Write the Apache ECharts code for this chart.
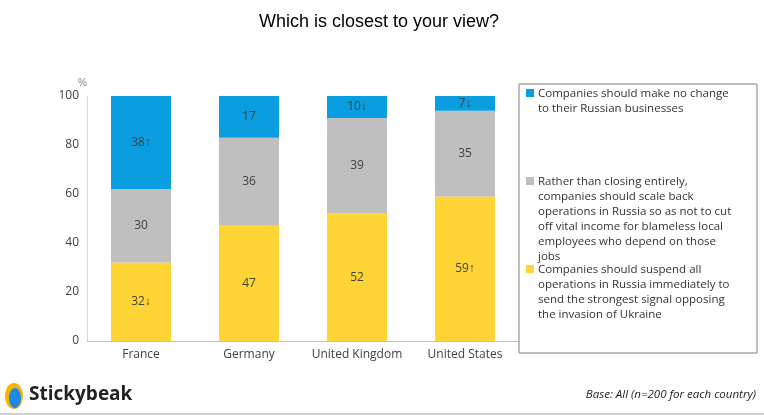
<!DOCTYPE html>
<html><head><meta charset="utf-8">
<script src="https://cdn.jsdelivr.net/npm/echarts@6/dist/echarts.min.js"></script>
<style>html,body{margin:0;padding:0;background:#fff}#main{width:764px;height:415px}</style>
</head><body><div id="main"></div>
<script>
var countries = ['France', 'Germany', 'United Kingdom', 'United States'];
var suspendVals = [32, 47, 52, 59];
var scaleVals = [30, 36, 39, 35];
var noChangeVals = [38, 17, 10, 7];
var suspendMarks = ['↓', '', '', '↑'];
var scaleMarks = ['', '', '', ''];
var noChangeMarks = ['↑', '', '↓', '↓'];

var font = 'Open Sans, sans-serif';
var myChart = echarts.init(document.getElementById('main'));

function series(name, vals, marks, color) {
  return {
    name: name, type: 'bar', stack: 'all', data: vals, barWidth: 60,
    itemStyle: { color: color },
    label: {
      show: true, color: '#404040', fontSize: 12, fontFamily: font,
      formatter: function (p) { return p.value + marks[p.dataIndex]; }
    }
  };
}

function legendItem(y, color, text) {
  return [
    { type: 'rect', shape: { x: 526, y: y + 3, width: 8, height: 8 }, style: { fill: color } },
    { type: 'text', left: 538, top: y, style: { text: text, fill: '#333', font: '11.5px ' + font, lineHeight: 15 } }
  ];
}

var option = {
  animation: false,
  title: { text: 'Which is closest to your view?', left: 254, top: 8,
    textStyle: { fontSize: 18, fontWeight: 'normal', color: '#000', fontFamily: 'Arial, Liberation Sans, sans-serif' } },
  grid: { left: 87, right: 245, top: 96, bottom: 74 },
  xAxis: { type: 'category', data: countries,
    axisLine: { lineStyle: { color: '#bfbfbf' } }, axisTick: { show: false },
    axisLabel: { color: '#404040', fontSize: 12, fontFamily: font, margin: 8, interval: 0 } },
  yAxis: { type: 'value', min: 0, max: 100, interval: 20, name: '%', nameGap: 8,
    nameTextStyle: { color: '#808080', fontSize: 10, align: 'right' },
    splitLine: { show: false }, axisLine: { show: true, lineStyle: { color: '#d9d9d9' } },
    axisLabel: { color: '#404040', fontSize: 12, fontFamily: font } },
  series: [
    series('suspend', suspendVals, suspendMarks, '#fed535'),
    series('scale', scaleVals, scaleMarks, '#bfbfbf'),
    series('nochange', noChangeVals, noChangeMarks, '#0a9ee0')
  ],
  graphic: [
    { type: 'rect', shape: { x: 519, y: 84, width: 238, height: 269 }, style: { fill: 'none', stroke: '#7f7f7f', lineWidth: 1 } }
  ].concat(
    legendItem(86, '#0a9ee0', 'Companies should make no change\nto their Russian businesses'),
    legendItem(174, '#bfbfbf', 'Rather than closing entirely,\ncompanies should scale back\noperations in Russia so as not to cut\noff vital income for blameless local\nemployees who depend on those\njobs'),
    legendItem(262, '#fed535', 'Companies should suspend all\noperations in Russia immediately to\nsend the strongest signal opposing\nthe invasion of Ukraine'),
    [
      { type: 'rect', shape: { x: 0, y: 413, width: 764, height: 2 }, style: { fill: '#d0d0d0' } },
      { type: 'ellipse', shape: { cx: 14, cy: 396, rx: 9, ry: 13 }, style: { fill: '#f5b400' } },
      { type: 'ellipse', shape: { cx: 15, cy: 398, rx: 6, ry: 10 }, style: { fill: '#1e88e5' } },
      { type: 'text', left: 29, top: 385, style: { text: 'Stickybeak', fill: '#222', font: 'bold 19px ' + font } },
      { type: 'text', right: 8, top: 389, style: { text: 'Base: All (n=200 for each country)', fill: '#222', font: 'italic 11.5px ' + font } }
    ]
  )
};
myChart.setOption(option);
</script></body></html>
